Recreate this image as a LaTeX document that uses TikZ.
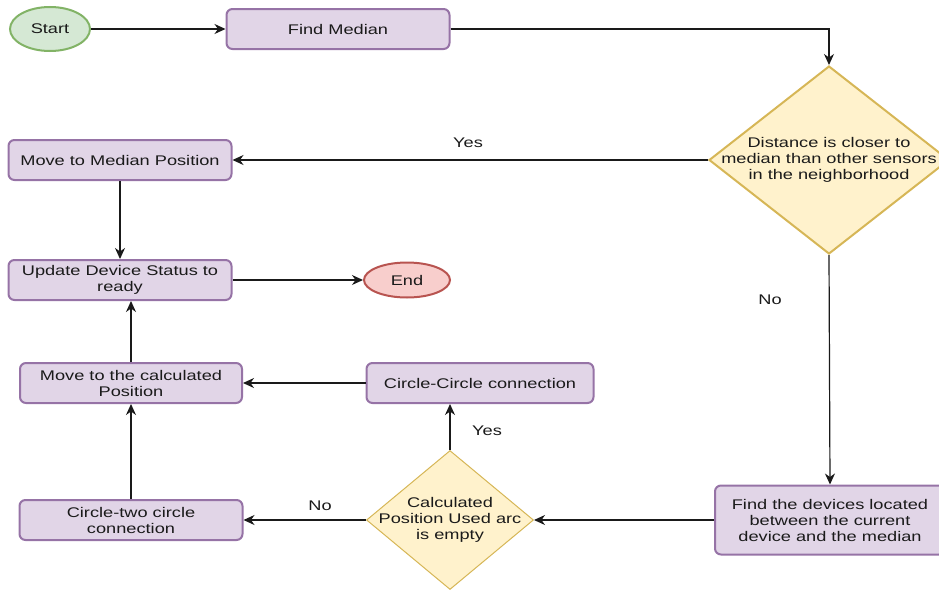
\documentclass[tikz,border=0pt]{standalone}
\usepackage{fontspec}
\setmainfont[FakeStretch=1.3]{Liberation Sans}
\usetikzlibrary{positioning,arrows.meta,shapes.geometric}
\definecolor{procfill}{HTML}{E1D5E7}
\definecolor{procline}{HTML}{9673A6}
\definecolor{startfill}{HTML}{D5E8D4}
\definecolor{startline}{HTML}{82B366}
\definecolor{endfill}{HTML}{F8CECC}
\definecolor{endline}{HTML}{B85450}
\definecolor{decfill}{HTML}{FFF2CC}
\definecolor{decline}{HTML}{D6B656}
\definecolor{ink}{HTML}{1A1A1A}

\begin{document}
\begin{tikzpicture}[x=1pt, y=-1pt,
    every node/.style={font=\fontsize{14}{16}\selectfont, align=center, text=ink},
    proc/.style={draw=procline, fill=procfill, line width=2pt, rounded corners=6pt,
                 minimum width=223pt, minimum height=40pt, inner sep=2pt},
    term/.style={ellipse, line width=2pt, inner sep=0pt},
    dec/.style={diamond, draw=decline, fill=decfill, line width=2pt, inner sep=0pt},
    flow/.style={-{Stealth[length=11pt, width=10pt, inset=3.5pt]}, line width=1.2pt, color=ink},
    lbl/.style={inner sep=1pt}
  ]
  \useasboundingbox (0,0) rectangle (939,589);
  \clip (0,0) rectangle (939,589);

  % ---- debut et recherche de la mediane ----------------------------------
  \node[term, draw=startline, fill=startfill, minimum width=80pt, minimum height=44pt]
    (start) at (50,29) {Start};
  \node[proc] (median) at (338,29) {Find Median};
  \node[dec, minimum width=240pt, minimum height=188pt,
        label={center:Distance is closer to\\median than other sensors\\in the neighborhood}]
    (closer) at (829,160) {};

  % ---- branche Yes ------------------------------------------------------
  \node[proc] (movemed) at (120,160) {Move to Median Position};
  \node[proc] (update)  at (120,280) {Update Device Status to\\ready};
  \node[term, draw=endline, fill=endfill, minimum width=86pt, minimum height=35pt]
    (end) at (407,280) {End};

  % ---- branche No -------------------------------------------------------
  \node[proc, minimum width=230pt, minimum height=69pt] (between) at (830,520)
    {Find the devices located\\between the current\\device and the median};
  \node[dec, line width=1pt, minimum width=167pt, minimum height=139pt,
        label={center:Calculated\\Position Used arc\\is empty}]
    (arcempty) at (450,520) {};
  \node[proc, minimum width=227pt] (circcirc) at (480,383) {Circle-Circle connection};
  \node[proc, minimum width=222pt] (movecalc) at (131,383) {Move to the calculated\\Position};
  \node[proc] (circtwo) at (131,520) {Circle-two circle\\connection};

  % ---- etiquettes ---------------------------------------------------------
  \node[lbl] (yes1) at (468,143) {Yes};
  \node[lbl] (no1)  at (770,300) {No};
  \node[lbl] (yes2) at (487,431) {Yes};
  \node[lbl] (no2)  at (320,506) {No};

  % ---- connecteurs --------------------------------------------------------
  \draw[flow] (start) -- (median);
  \draw[flow] (median.east) -| (closer.north);
  \draw[flow] (closer.west) -- (movemed.east);
  \draw[flow] (movemed) -- (update);
  \draw[flow] (update) -- (end);
  \draw[flow] (closer.south) -- (between.north);
  \draw[flow] (between.west) -- (arcempty.east);
  \draw[flow] (arcempty.north) -- (circcirc.south -| arcempty.north);
  \draw[flow] (circcirc.west) -- (movecalc.east);
  \draw[flow] (arcempty.west) -- (circtwo.east);
  \draw[flow] (circtwo) -- (movecalc);
  \draw[flow] (movecalc) -- (update.south -| movecalc.north);

\end{tikzpicture}
\end{document}
